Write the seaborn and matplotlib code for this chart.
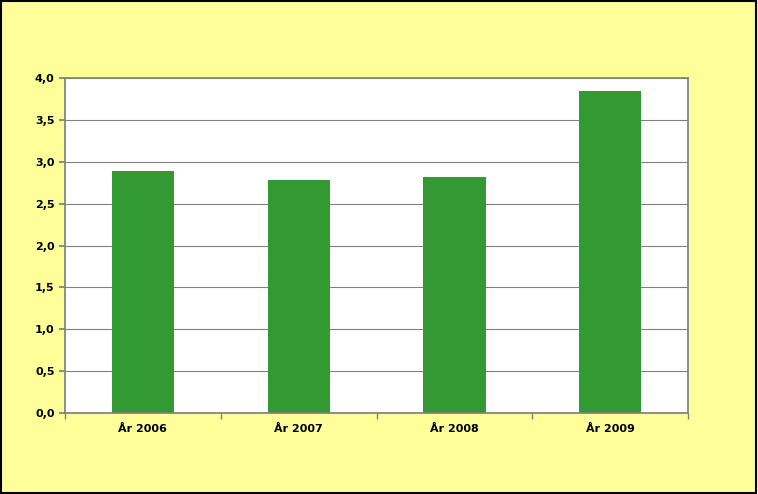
import seaborn as sns
import matplotlib.pyplot as plt
from matplotlib.patches import Rectangle

years = ["År 2006", "År 2007", "År 2008", "År 2009"]
values = [2.89, 2.78, 2.82, 3.84]

sns.set_theme(style="white")
plt.rcParams['font.family'] = ['DejaVu Sans']

fig = plt.figure(figsize=(7.58, 4.94), dpi=100, facecolor="#FFFF99")
fig.patches.append(Rectangle((0.001, 0.002), 0.997, 0.996, transform=fig.transFigure,
                             fill=False, edgecolor="black", linewidth=1.5))
ax = fig.add_axes([0.0858, 0.164, 0.822, 0.678])
ax.set_facecolor("white")

sns.barplot(x=years, y=values, color="#339933", saturation=1, width=0.4,
            linewidth=0, ax=ax)

ax.set_ylim(0, 4)
ax.set_xlim(-0.5, 3.5)
ax.set_yticks([i * 0.5 for i in range(9)])
ax.set_yticklabels([f"{i * 0.5:.1f}".replace(".", ",") for i in range(9)],
                   fontsize=8, fontweight="bold", color="black")
ax.set_xticks(range(4))
ax.set_xticklabels(years, fontsize=8, fontweight="bold", color="black")
ax.yaxis.grid(True, color="#808080", linewidth=0.8)
ax.set_axisbelow(True)
ax.tick_params(axis="x", length=0, pad=8)
ax.tick_params(axis="y", left=True, length=4, color="#808080")
ax.set_xticks([-0.5, 0.5, 1.5, 2.5, 3.5], minor=True)
ax.tick_params(axis="x", which="minor", bottom=True, length=4, color="#808080")
for s in ax.spines.values():
    s.set_color("#808080")
ax.set_xlabel("")
ax.set_ylabel("")

fig.savefig("out.png", dpi=100, facecolor=fig.get_facecolor())
